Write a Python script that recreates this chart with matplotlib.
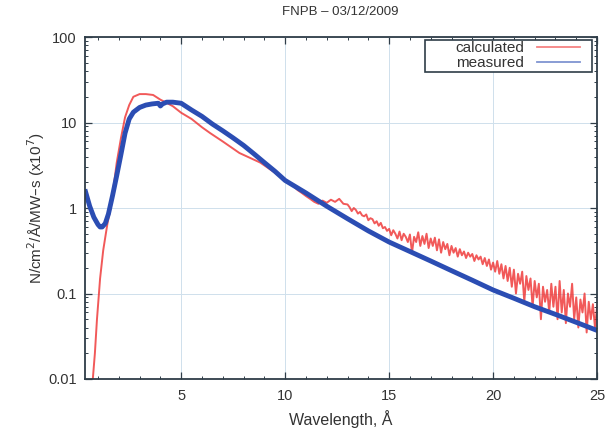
import matplotlib
matplotlib.use('Agg')
import matplotlib.pyplot as plt
from matplotlib.patches import Rectangle
from matplotlib.ticker import MultipleLocator, LogLocator, NullFormatter

plt.rcParams['font.family'] = ['Liberation Sans', 'DejaVu Sans']

# ─── datos ───────────────────────────────────────────────────────────────────
wl_meas = [0.4, 0.6, 0.8, 1.0, 1.1, 1.2, 1.35, 1.5, 1.7, 1.9, 2.1, 2.3, 2.5,
           2.7, 3.0, 3.3, 3.6, 3.9, 4.0, 4.1, 4.3, 4.6, 5.0, 5.5, 6.0, 6.5,
           7.0, 7.5, 8.0, 8.5, 9.0, 9.5, 10.0, 11.0, 12.0, 13.0, 14.0, 15.0,
           16.0, 17.0, 18.0, 19.0, 20.0, 21.0, 22.0, 23.0, 24.0, 25.0]
flux_meas = [1.55, 1.05, 0.78, 0.64, 0.60, 0.60, 0.66, 0.85, 1.4, 2.4, 4.2,
             7.5, 11.0, 13.2, 15.0, 16.0, 16.5, 16.8, 15.6, 16.5, 17.3, 17.3,
             16.8, 14.0, 11.8, 9.6, 8.0, 6.6, 5.4, 4.3, 3.4, 2.7, 2.1, 1.5,
             1.05, 0.75, 0.54, 0.40, 0.31, 0.24, 0.185, 0.143, 0.11, 0.088,
             0.070, 0.057, 0.046, 0.037]

wl_calc = [0.7, 0.75, 0.85, 0.95, 1.1, 1.25, 1.45, 1.6, 1.8, 1.9, 2.1, 2.3,
           2.5, 2.7, 3.0, 3.3, 3.65, 4.0, 4.3, 4.6, 5.0, 5.5, 6.0, 6.4, 7.0,
           7.8, 8.8, 9.5,
           10.0, 10.2, 10.4, 10.6, 10.8, 11.0, 11.2, 11.4, 11.6, 11.8,
           12.0, 12.2, 12.4, 12.6, 12.8,
           13.0, 13.1, 13.2, 13.3, 13.4, 13.5, 13.6, 13.7, 13.8, 13.9,
           14.0, 14.1, 14.2, 14.3, 14.4, 14.5, 14.6, 14.7, 14.8, 14.9,
           15.0, 15.1, 15.2, 15.3, 15.4, 15.5, 15.6, 15.7, 15.8, 15.9,
           16.0, 16.1, 16.2, 16.3, 16.4, 16.5, 16.6, 16.7, 16.8, 16.9,
           17.0, 17.1, 17.2, 17.3, 17.4, 17.5, 17.6, 17.7, 17.8, 17.9,
           18.0, 18.1, 18.2, 18.3, 18.4, 18.5, 18.6, 18.7, 18.8, 18.9,
           19.0, 19.1, 19.2, 19.3, 19.4, 19.5, 19.6, 19.7, 19.8, 19.9,
           20.0, 20.1, 20.2, 20.3, 20.4, 20.5, 20.6, 20.7, 20.8, 20.9,
           21.0, 21.1, 21.2, 21.3, 21.4, 21.5, 21.6, 21.7, 21.8, 21.9,
           22.0, 22.1, 22.2, 22.3, 22.4, 22.5, 22.6, 22.7, 22.8, 22.9,
           23.0, 23.1, 23.2, 23.3, 23.4, 23.5, 23.6, 23.7, 23.8, 23.9,
           24.0, 24.1, 24.2, 24.3, 24.4, 24.5, 24.6, 24.7, 24.8, 24.9,
           25.0]
flux_calc = [0.006, 0.01, 0.02, 0.05, 0.15, 0.32, 0.65, 1.0, 2.2, 3.4, 6.5,
             11.5, 16.0, 20.0, 21.5, 21.5, 21.0, 18.5, 17.0, 15.5, 13.0, 11.0,
             8.8, 7.5, 6.0, 4.4, 3.4, 2.6,
             2.10, 1.95, 1.80, 1.62, 1.50, 1.38, 1.28, 1.18, 1.12, 1.22,
             1.15, 1.25, 1.18, 1.28, 1.12,
             1.10, 1.02, 0.92, 1.00, 0.95, 0.86, 0.90, 0.82, 0.80, 0.84,
             0.72, 0.76, 0.74, 0.66, 0.70, 0.62, 0.67, 0.58, 0.60, 0.54,
             0.57, 0.48, 0.55, 0.50, 0.44, 0.53, 0.42, 0.50, 0.46, 0.40,
             0.49, 0.30, 0.46, 0.40, 0.52, 0.36, 0.47, 0.38, 0.50, 0.34,
             0.44, 0.36, 0.45, 0.32, 0.43, 0.30, 0.40, 0.33, 0.38, 0.28,
             0.36, 0.30, 0.34, 0.27, 0.33, 0.28, 0.31, 0.26, 0.30, 0.27,
             0.29, 0.24, 0.28, 0.25, 0.27, 0.22, 0.26, 0.21, 0.25, 0.19,
             0.23, 0.18, 0.24, 0.17, 0.22, 0.15, 0.21, 0.14, 0.20, 0.12,
             0.19, 0.10, 0.17, 0.13, 0.18, 0.08, 0.16, 0.11, 0.15, 0.07,
             0.14, 0.09, 0.13, 0.05, 0.12, 0.08, 0.11, 0.06, 0.13, 0.07,
             0.12, 0.05, 0.14, 0.06, 0.11, 0.045, 0.10, 0.07, 0.13, 0.05,
             0.09, 0.04, 0.085, 0.06, 0.10, 0.035, 0.08, 0.05, 0.075, 0.04,
             0.07]

RED = '#ee3030'
BLUE = '#2b4db3'
INK = '#2f3d48'
TXT = '#333333'

# ─── figura ──────────────────────────────────────────────────────────────────
fig = plt.figure(figsize=(6.08, 4.28), dpi=100)
ax = fig.add_axes([0.14, 0.1145, 0.842, 0.799])

ax.plot(wl_calc, flux_calc, color=RED, lw=1.4, alpha=0.8, label='calculated')
ax.plot(wl_meas, flux_meas, color=BLUE, lw=3.5, label='measured')

ax.set_yscale('log')
ax.set_xlim(0.38, 25)
ax.set_ylim(0.01, 100)

ax.xaxis.set_major_locator(MultipleLocator(5))
ax.xaxis.set_minor_locator(MultipleLocator(1))
ax.yaxis.set_minor_locator(LogLocator(base=10, subs=range(2, 10)))
ax.yaxis.set_minor_formatter(NullFormatter())
ax.set_yticks([0.01, 0.1, 1, 10, 100])
ax.set_yticklabels(['0.01', '0.1', '1', '10', '100'])

ax.grid(True, which='major', color='#cfe0ec', lw=0.7)
ax.tick_params(which='both', direction='in', top=True, right=True,
               color=INK, labelcolor=TXT, labelsize=10.5)
ax.tick_params(which='major', length=5, width=0.9, pad=7)
ax.tick_params(axis='y', which='major', pad=6)
ax.tick_params(which='minor', length=2.5, width=0.7)
for sp in ax.spines.values():
    sp.set_color(INK)
    sp.set_linewidth(1.3)

ax.set_xlabel('Wavelength, Å', fontsize=11.5, color=TXT, labelpad=5)
ax.set_ylabel('N/cm$^2$/Å/MW–s (x10$^7$)', fontsize=11, color=TXT,
              labelpad=1)
fig.text(0.56, 0.972, 'FNPB – 03/12/2009', ha='center', va='center',
         fontsize=9.5, color=TXT)

# leyenda estilo gnuplot: texto a la derecha, caja cuadrada
ax.add_patch(Rectangle((0.664, 0.898), 0.326, 0.093, transform=ax.transAxes,
                       facecolor='white', edgecolor=INK, lw=1.2, zorder=4))
leg = ax.legend(loc='upper right', bbox_to_anchor=(0.967, 0.988),
                markerfirst=False, fontsize=11, handlelength=2.8,
                handletextpad=0.85, borderaxespad=0, borderpad=0,
                labelspacing=0.05, frameon=False)
leg.set_zorder(5)
for t in leg.get_texts():
    t.set_color(TXT)
for h in leg.get_lines():
    h.set_linewidth(1.3)
    h.set_alpha(0.6)

fig.savefig('out.png', dpi=100)
